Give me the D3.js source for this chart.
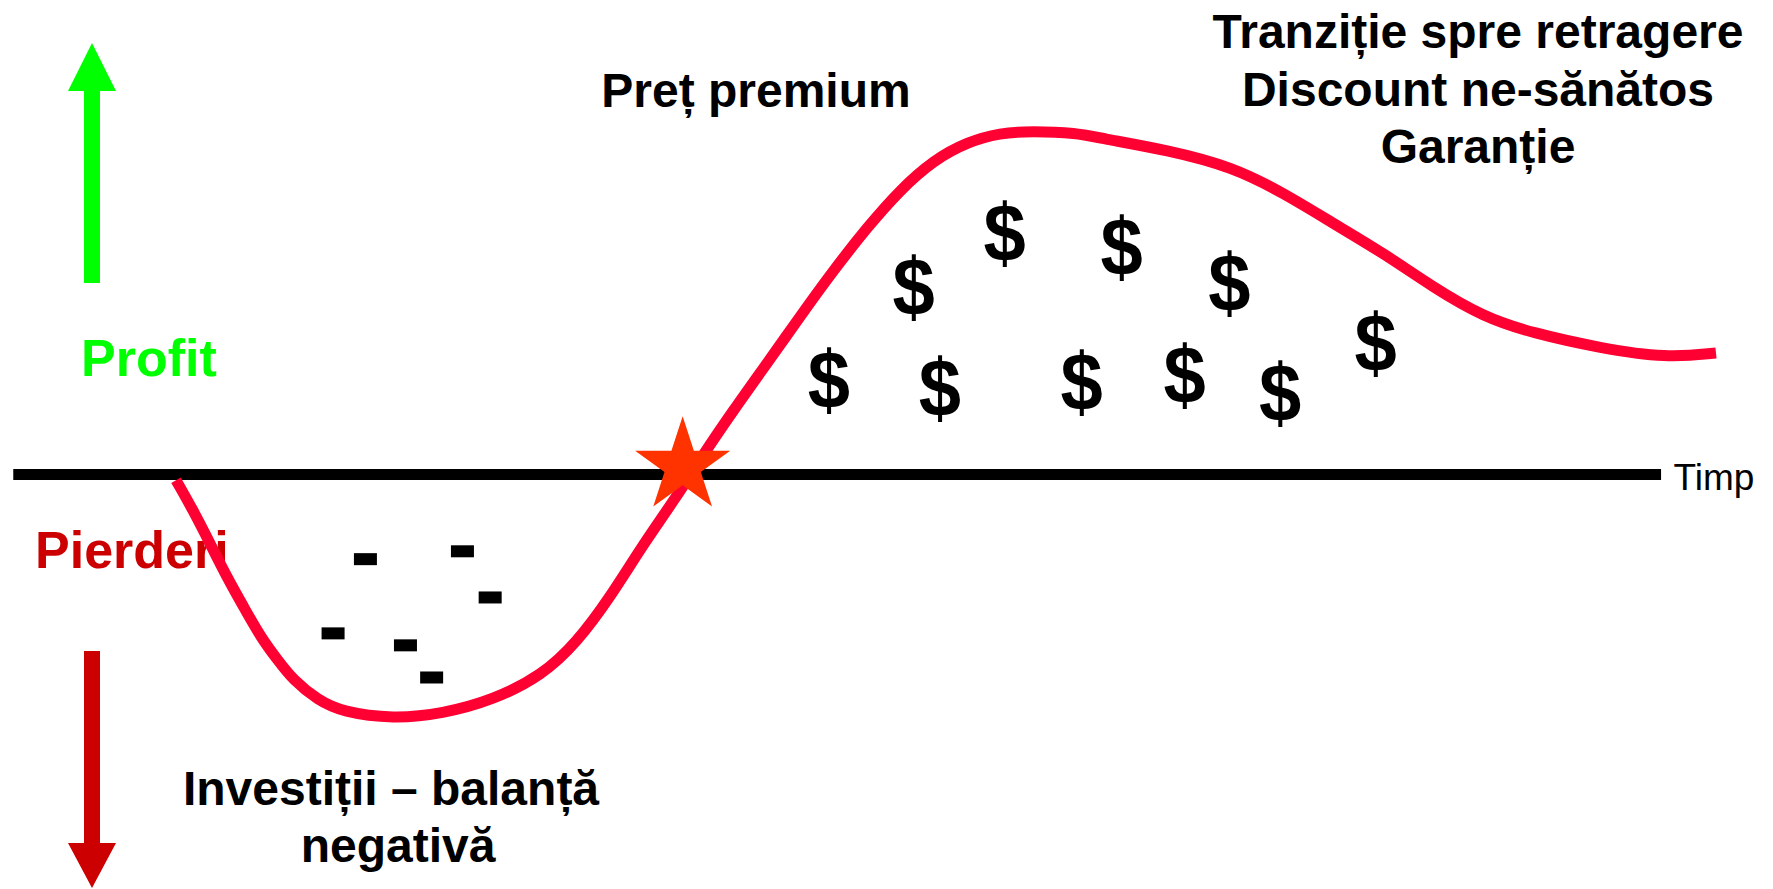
<!DOCTYPE html>
<html>
<head>
<meta charset="utf-8">
<script src="https://cdn.jsdelivr.net/npm/d3@7"></script>
<style>
  html, body { margin: 0; padding: 0; background: #fff; }
  svg { display: block; }
  text { font-family: "Liberation Sans", Arial, sans-serif; }
</style>
</head>
<body>
<svg id="chart" width="1773" height="889"></svg>
<script>
// ---- data (time units 0..100, value units: 0 = break-even, 100 = peak) ----
const curveTime  = [0, 1.1, 2.2, 3.3, 4.4, 5.5, 6.6, 7.6, 9.2, 10.8, 14.1, 17.3, 20.6, 23.8, 26.0, 28.2, 30.3, 32.5, 34.0, 36.2, 38.4, 40.5, 42.7, 44.9, 47.0, 49.2, 51.4, 53.5, 55.6, 58.5, 60.0, 64.4, 68.6, 71.9, 75.1, 78.4, 81.6, 84.9, 88.1, 92.5, 96.8, 100];
const curveValue = [-1.8, -10.5, -20.2, -30.1, -38.9, -47.7, -54.4, -60.2, -66.1, -69.6, -71.6, -70.1, -66.1, -58.8, -49.4, -36.0, -20.8, -6.7, 4.1, 18.7, 32.5, 45.9, 59.6, 72.2, 83.0, 91.8, 97.1, 99.7, 100.3, 99.7, 98.2, 94.7, 89.8, 82.2, 73.4, 64.6, 54.7, 45.9, 41.2, 36.8, 33.9, 35.4];

const dollarTime  = [47.9, 53.8, 61.4, 68.4, 42.4, 49.6, 58.8, 65.5, 71.7, 77.9];
const dollarValue = [54.4, 70.2, 66.1, 55.6, 27.2, 24.9, 26.6, 28.7, 23.4, 38.0];

const dashTime  = [12.3, 18.6, 20.4, 10.2, 14.9, 16.6];
const dashValue = [-24.9, -22.6, -36.1, -46.6, -50.1, -59.5];

const breakEvenTime = [32.9];
const breakEvenValue = [2.3];

const axisDomain = [-10.6, 96.4];
const axisLabel = "Timp";
const profitLabel = "Profit";
const lossLabel = "Pierderi";
const premiumLabel = ["Preț premium"];
const retireLabels = ["Tranziție spre retragere", "Discount ne-sănătos", "Garanție"];
const investLabels = ["Investiții – balanță", "negativă"];

// ---- scales ----
const x = d3.scaleLinear().domain([0, 100]).range([176, 1716]);
const y = d3.scaleLinear().domain([0, 100]).range([474, 132]);
const xAxisScale = d3.scaleLinear().domain(axisDomain).range([x(axisDomain[0]), x(axisDomain[1])]);

const svg = d3.select("#chart");

// ---- time axis ----
const axisG = svg.append("g")
  .attr("transform", `translate(0,${y(0)})`)
  .call(d3.axisBottom(xAxisScale).tickValues([]).tickSizeOuter(0));
axisG.select(".domain").attr("stroke", "#000").attr("stroke-width", 11);
svg.append("text")
  .attr("x", xAxisScale.range()[1] + 13)
  .attr("y", y(0) + 16)
  .attr("font-size", 37)
  .attr("fill", "#000")
  .text(axisLabel);

// ---- profit / loss arrows ----
const arrowUp = [[84, 283], [84, 91], [68, 91], [92, 43], [116, 91], [100, 91], [100, 283]];
const arrowDown = [[84, 651], [84, 843], [68, 843], [92, 888], [116, 843], [100, 843], [100, 651]];
svg.append("path").attr("d", d3.line()(arrowUp) + "Z").attr("fill", "#00FF00");
svg.append("path").attr("d", d3.line()(arrowDown) + "Z").attr("fill", "#CC0000");

svg.append("text").attr("x", 81).attr("y", 376)
  .attr("font-size", 52).attr("font-weight", "bold").attr("fill", "#00FF00").text(profitLabel);
svg.append("text").attr("x", 35).attr("y", 568)
  .attr("font-size", 52).attr("font-weight", "bold").attr("fill", "#CC0000").text(lossLabel);

// ---- dashes (losses) ----
svg.append("g").selectAll("rect")
  .data(dashTime.map((t, i) => ({ t, v: dashValue[i] })))
  .join("rect")
  .attr("x", d => x(d.t) - 11.5)
  .attr("y", d => y(d.v) - 6)
  .attr("width", 23)
  .attr("height", 12)
  .attr("fill", "#000");

// ---- dollar signs (profit) ----
svg.append("g").selectAll("text")
  .data(dollarTime.map((t, i) => ({ t, v: dollarValue[i] })))
  .join("text")
  .attr("transform", d => `translate(${x(d.t)},${y(d.v) + 27}) scale(0.95,1.03)`)
  .attr("text-anchor", "middle")
  .attr("font-size", 80)
  .attr("font-weight", "bold")
  .attr("fill", "#000")
  .text("$");

// ---- life-cycle curve ----
const curveData = curveTime.map((t, i) => ({ t, v: curveValue[i] }));
svg.append("path")
  .datum(curveData)
  .attr("d", d3.line().x(d => x(d.t)).y(d => y(d.v)).curve(d3.curveBasis))
  .attr("fill", "none")
  .attr("stroke", "#FF0033")
  .attr("stroke-width", 11)
  .attr("stroke-linecap", "butt");

// ---- break-even star ----
svg.append("g").selectAll("path")
  .data(breakEvenTime.map((t, i) => ({ t, v: breakEvenValue[i] })))
  .join("path")
  .attr("transform", d => `translate(${x(d.t)},${y(d.v)})`)
  .attr("d", d3.symbol(d3.symbolStar, 2500 / 0.8908130915292852))
  .attr("fill", "#FF3300");

// ---- annotations ----
const bold = sel => sel.attr("font-weight", "bold").attr("fill", "#000").attr("text-anchor", "middle");
svg.append("text").attr("x", 756).attr("y", 107).attr("font-size", 48).call(bold).text(premiumLabel[0]);

svg.append("g").selectAll("text")
  .data(retireLabels)
  .join("text")
  .attr("x", 1478)
  .attr("y", (d, i) => 48 + i * 57.5)
  .attr("font-size", 48)
  .call(bold)
  .text(d => d);

const investX = [391, 398];
svg.append("g").selectAll("text")
  .data(investLabels)
  .join("text")
  .attr("x", (d, i) => investX[i])
  .attr("y", (d, i) => 805 + i * 57)
  .attr("font-size", 48)
  .call(bold)
  .text(d => d);
</script>
</body>
</html>
